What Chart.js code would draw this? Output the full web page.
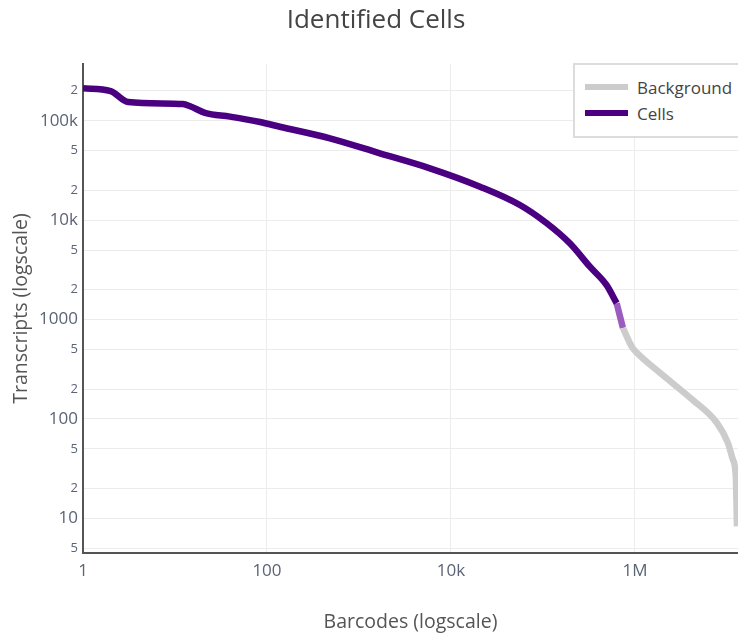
<!DOCTYPE html>
<html lang="en">
<head>
<meta charset="UTF-8" />
<title>Identified Cells</title>
<script src="https://cdn.jsdelivr.net/npm/chart.js"></script>
<style>
  body { margin: 0; background: #fff; font-family: "Open Sans", sans-serif; }
  .wrap { position: relative; width: 738px; height: 636px; overflow: hidden; }
  .titulo { position: absolute; top: 0px; left: 0; width: 752px; text-align: center; font-size: 26px; line-height: 36px; color: #444; }
  .xtitulo { position: absolute; top: 607px; left: 83px; width: 655px; text-align: center; font-size: 19.5px; line-height: 27px; color: #555; }
  .legenda { position: absolute; left: 573px; top: 63px; width: 200px; height: 71px; border: 2px solid #dcdcdc; background: #fff; }
  .item { position: absolute; left: 0; height: 26px; display: flex; align-items: center; }
  .amostra { margin-left: 10px; width: 43px; height: 6px; }
  .rotulo { margin-left: 9px; font-size: 17px; color: #444; }
</style>
</head>
<body>
<div class="wrap">
  <canvas id="grafico" width="738" height="636"></canvas>
  <div class="titulo">Identified Cells</div>
  <div class="xtitulo">Barcodes (logscale)</div>
  <div class="legenda" id="legenda"></div>
</div>

<script>
// barcode rank vs transcripts
const cellsRank = [1, 2, 3.1, 12.2, 14.6, 21.2, 39.6, 84, 138, 484, 1690, 5910, 20700, 56200, 110000, 196000, 324000, 492000, 633000];
const cellsUmi  = [212000, 199000, 154000, 147000, 140000, 120000, 110000, 97000, 87000, 66500, 47000, 33200, 21700, 14200, 9300, 5850, 3400, 2220, 1460];

const mixedRank = [633000, 741000];
const mixedUmi  = [1460, 822];

const bgRank = [741000, 927000, 1050000, 1870000, 4260000, 7800000, 10200000, 11600000, 12500000, 12860000];
const bgUmi  = [822, 531, 462, 291, 155, 91, 58, 39, 26, 8.3];

const xTickValues = [1, 100, 1e4, 1e6];
const xTickLabels = ['1', '100', '10k', '1M'];
const yTickValues = [5, 10, 20, 50, 100, 200, 500, 1000, 2000, 5000, 1e4, 2e4, 5e4, 1e5, 2e5];
const yTickLabels = ['5', '10', '2', '5', '100', '2', '5', '1000', '2', '5', '10k', '2', '5', '100k', '2'];

const fonte = '"Open Sans", sans-serif';
const corTick = '#5b6377';

function pontos(xs, ys) {
  return xs.map((x, i) => ({ x: x, y: ys[i] }));
}
function ehMaior(v) {
  const l = Math.log10(v);
  return Math.abs(l - Math.round(l)) < 1e-9;
}

const datasets = [
  { label: 'Background', data: pontos(bgRank, bgUmi), borderColor: '#cccccc', legenda: true },
  { label: 'Cells', data: pontos(cellsRank, cellsUmi), borderColor: '#4b0082', legenda: true },
  { label: 'Mixed', data: pontos(mixedRank, mixedUmi), borderColor: '#9b5cc0', legenda: false }
];
datasets.forEach(d => {
  d.borderWidth = 6.5;
  d.pointRadius = 0;
  d.cubicInterpolationMode = 'monotone';
  d.fill = false;
  d.borderJoinStyle = 'round';
});

new Chart(document.getElementById('grafico'), {
  type: 'line',
  data: { datasets: datasets },
  options: {
    responsive: false,
    animation: false,
    layout: { padding: { top: 64, left: 0, right: 0, bottom: 0 } },
    plugins: { legend: { display: false }, tooltip: { enabled: false } },
    scales: {
      x: {
        type: 'logarithmic',
        min: 1,
        max: 13.2e6,
        afterBuildTicks: s => { s.ticks = xTickValues.map(v => ({ value: v })); },
        afterFit: s => { s.height = 83; s.paddingLeft = 0; s.paddingRight = 0; },
        grid: { color: '#ececec', lineWidth: 1, drawTicks: false },
        border: { display: true, color: '#555', width: 2 },
        ticks: {
          autoSkip: false,
          maxRotation: 0,
          padding: 8,
          color: corTick,
          font: { family: fonte, size: 17 },
          callback: (v, i) => xTickLabels[i]
        }
      },
      y: {
        type: 'logarithmic',
        min: 4.48,
        max: 372000,
        afterBuildTicks: s => { s.ticks = yTickValues.map(v => ({ value: v })); },
        afterFit: s => { s.width = 83; s.paddingTop = 0; s.paddingBottom = 0; },
        grid: { color: '#ececec', lineWidth: 1, drawTicks: false },
        border: { display: true, color: '#555', width: 2 },
        title: {
          display: true,
          text: 'Transcripts (logscale)',
          color: '#555',
          font: { family: fonte, size: 19.5 },
          padding: { top: 10, bottom: 0 }
        },
        ticks: {
          autoSkip: false,
          padding: 5,
          color: corTick,
          font: c => ({ family: fonte, size: c.tick && ehMaior(c.tick.value) ? 17 : 13 }),
          callback: (v, i) => yTickLabels[i]
        }
      }
    }
  }
});

// legend box drawn as html, from the datasets
const legenda = document.getElementById('legenda');
datasets.filter(d => d.legenda).forEach((d, i) => {
  const item = document.createElement('div');
  item.className = 'item';
  item.style.top = (9 + i * 26) + 'px';
  item.innerHTML = '<span class="amostra" style="background:' + d.borderColor + '"></span><span class="rotulo">' + d.label + '</span>';
  legenda.appendChild(item);
});
</script>
</body>
</html>
